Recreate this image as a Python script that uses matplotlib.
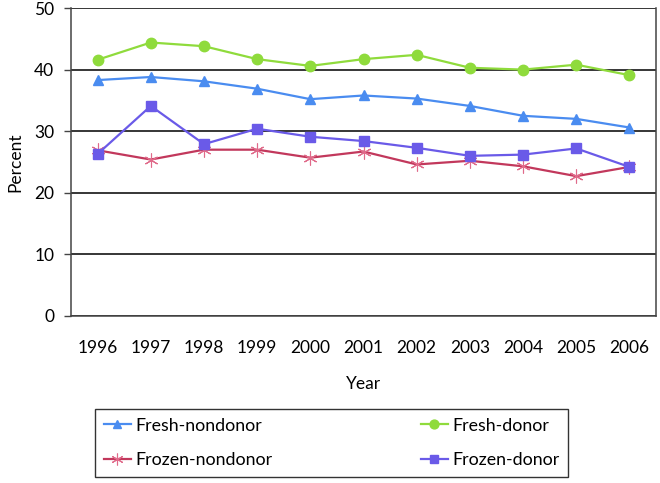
import matplotlib.pyplot as plt
import numpy as np

plt.rcParams['font.family'] = ['Lato', 'DejaVu Sans']

years = ['1996', '1997', '1998', '1999', '2000', '2001', '2002', '2003', '2004', '2005', '2006']
fresh_nondonor = [38.3, 38.8, 38.1, 36.9, 35.2, 35.8, 35.3, 34.1, 32.5, 32.0, 30.6]
fresh_donor = [41.6, 44.4, 43.8, 41.7, 40.6, 41.7, 42.4, 40.3, 40.0, 40.8, 39.1]
frozen_nondonor = [26.9, 25.4, 27.0, 27.0, 25.7, 26.7, 24.6, 25.2, 24.3, 22.7, 24.2]
frozen_donor = [26.3, 34.1, 27.9, 30.4, 29.1, 28.4, 27.3, 26.0, 26.2, 27.2, 24.2]

fig = plt.figure(figsize=(6.6, 4.83), dpi=100)
ax = fig.add_axes([0.1076, 0.3458, 0.8864, 0.6376])

x = np.arange(len(years))
l1, = ax.plot(x, fresh_nondonor, color='#4A8CF0', marker='^', markersize=7, lw=1.6, label='Fresh-nondonor')
l2, = ax.plot(x, fresh_donor, color='#8FDB3C', marker='o', markersize=7.5, lw=1.6, label='Fresh-donor')
l3, = ax.plot(x, frozen_nondonor, color='#C2385C', marker=(6, 2, 0), markersize=10, lw=1.6,
              markeredgecolor='#E06A8A', markeredgewidth=0.8, label='Frozen-nondonor')
l4, = ax.plot(x, frozen_donor, color='#6A5AE8', marker='s', markersize=6.5, lw=1.6, label='Frozen-donor')

ax.set_xlim(-0.5, len(years) - 0.5)
ax.set_ylim(0, 50)
ax.set_yticks(range(0, 51, 10))
ax.set_xticks(x)
ax.set_xticklabels(years)
ax.yaxis.grid(True, color='black', lw=1.1)
ax.set_axisbelow(True)
for s in ['left', 'right', 'bottom', 'top']:
    ax.spines[s].set_color('#444444')
    ax.spines[s].set_linewidth(1.1)
ax.spines['top'].set_visible(False)
ax.tick_params(axis='x', length=0, pad=17, labelsize=12.5)
ax.tick_params(axis='y', length=5, width=1, color='#444444', pad=7, labelsize=12.5)
ax.set_xlabel('Year', fontsize=12.5, labelpad=15)
ax.set_ylabel('Percent', fontsize=12.5, labelpad=8)

# column-wise fill: col1 = fresh/frozen nondonor, col2 = fresh/frozen donor
leg = fig.legend([l1, l3, l2, l4], [l.get_label() for l in [l1, l3, l2, l4]],
                 loc='center', bbox_to_anchor=(0.144, 0.0104, 0.717, 0.145),
                 ncol=2, mode='expand', fontsize=12.8, frameon=True, fancybox=False,
                 edgecolor='black', handlelength=1.5, handletextpad=0.25, markerscale=0.85,
                 borderpad=0.5, borderaxespad=0, labelspacing=1.05, columnspacing=2)
leg.get_frame().set_linewidth(1.0)

fig.savefig('out.png', dpi=100)
